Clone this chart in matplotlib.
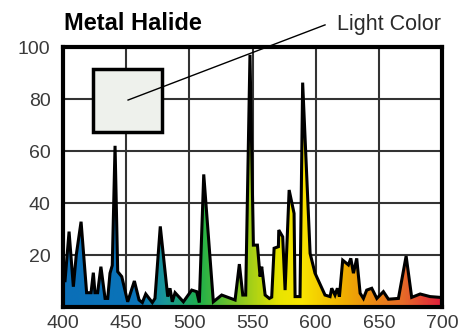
import numpy as np
import matplotlib
matplotlib.use("Agg")
from matplotlib import pyplot as plt
from matplotlib.colors import LinearSegmentedColormap

plt.rcParams['font.family'] = ['Liberation Sans', 'DejaVu Sans']

# spectrum (wavelength nm, relative power)
wavelength = [401.6, 404.8, 408.2, 410.5, 414.3, 418.7, 422.2, 424.0, 425.3, 427.4,
              430.0, 433.3, 435.4, 437.2, 439.0, 441.2, 443.3, 446.5, 451.2, 456.5,
              460.2, 462.8, 465.5, 470.7, 472.8, 477.0, 482.9, 484.7, 486.5, 488.7,
              495.3, 501.9, 505.8, 507.9, 511.4, 519.0, 525.6, 536.2, 539.6, 542.3,
              544.6, 548.0, 550.7, 553.9, 556.0, 557.3, 560.0, 563.3, 565.2, 567.1,
              570.5, 570.8, 573.9, 575.8, 579.0, 582.9, 583.7, 587.6, 589.7, 595.6,
              599.5, 607.4, 611.4, 612.7, 615.3, 617.2, 618.8, 621.4, 625.9, 627.8,
              629.9, 632.5, 635.2, 637.8, 640.4, 644.4, 648.4, 653.6, 657.6, 665.5,
              671.6, 676.0, 682.7, 690.6, 698.5]
power = [10.1, 29.0, 7.8, 20.0, 32.8, 5.5, 5.5, 13.2, 5.5, 5.5,
         15.5, 3.3, 3.3, 13.0, 16.0, 62.0, 13.6, 11.7, 2.0, 10.0,
         2.7, 1.7, 5.0, 1.7, 3.3, 31.0, 4.0, 7.2, 2.0, 5.5,
         2.0, 6.5, 5.9, 1.7, 51.0, 2.0, 4.6, 2.7, 16.5, 4.6,
         4.6, 97.0, 23.8, 23.8, 11.7, 15.5, 4.6, 3.3, 3.8, 22.6,
         23.2, 29.6, 27.0, 6.5, 45.0, 36.0, 4.0, 4.0, 86.3, 20.6,
         13.0, 4.6, 4.0, 7.2, 4.6, 7.2, 4.0, 18.0, 16.2, 18.7,
         13.0, 18.7, 5.3, 3.3, 6.5, 7.2, 3.3, 5.9, 3.0, 3.3,
         19.6, 3.7, 5.0, 4.0, 3.7]

x_ticks = [400, 450, 500, 550, 600, 650, 700]
y_ticks = [20, 40, 60, 80, 100]

spectrum = LinearSegmentedColormap.from_list("spectrum", [
    (0.00, "#0a6fb8"), (0.20, "#0a74b8"), (0.27, "#1a9898"),
    (0.36, "#1fb04a"), (0.47, "#8cc820"), (0.57, "#e8e400"),
    (0.63, "#f8e400"), (0.74, "#f0b000"), (0.84, "#ea8018"),
    (0.90, "#e66a28"), (1.00, "#e0203c")])

fig = plt.figure(figsize=(4.62, 3.34), dpi=100)
ax = fig.add_axes([63 / 462, 27 / 334, 379 / 462, 260 / 334])

x = np.array([400] + wavelength + [700])
y = np.array([power[0]] + power + [power[-1]])

poly = ax.fill_between(x, y, 0, color='none', zorder=2)
grad = np.linspace(0, 1, 600).reshape(1, -1)
img = ax.imshow(grad, cmap=spectrum, aspect='auto', extent=[400, 700, 0, 100],
                origin='lower', zorder=2)
img.set_clip_path(poly.get_paths()[0], transform=ax.transData)
ax.plot(x, y, color='black', lw=2.2, zorder=3, solid_joinstyle='miter')

ax.set_xlim(400, 700)
ax.set_ylim(0, 100)
ax.set_xticks(x_ticks)
ax.set_yticks(y_ticks)
ax.grid(True, color='#333333', lw=1.5, zorder=1)
ax.set_axisbelow(True)
for s in ax.spines.values():
    s.set_linewidth(3)
    s.set_zorder(5)
ax.tick_params(length=0, labelsize=14, labelcolor='#3a3a3a')
ax.tick_params(axis='x', pad=6)
ax.tick_params(axis='y', pad=9)

# light color swatch
ax.add_patch(plt.Rectangle((423.7, 67.3), 54.8, 24.2, facecolor='#eef1ec',
                           edgecolor='black', lw=2.5, zorder=4))
ax.plot([451.5, 607.4], [79.6, 108.5], color='black', lw=1, zorder=6,
        clip_on=False)
ax.text(617, 108.5, 'Light Color', fontsize=15.5, color='#2a2a2a',
        va='center', ha='left', clip_on=False)

fig.text(64 / 462, 1 - 23 / 334, 'Metal Halide', fontsize=17, fontweight='bold',
         va='center', ha='left')

fig.savefig('out.png', dpi=100)
